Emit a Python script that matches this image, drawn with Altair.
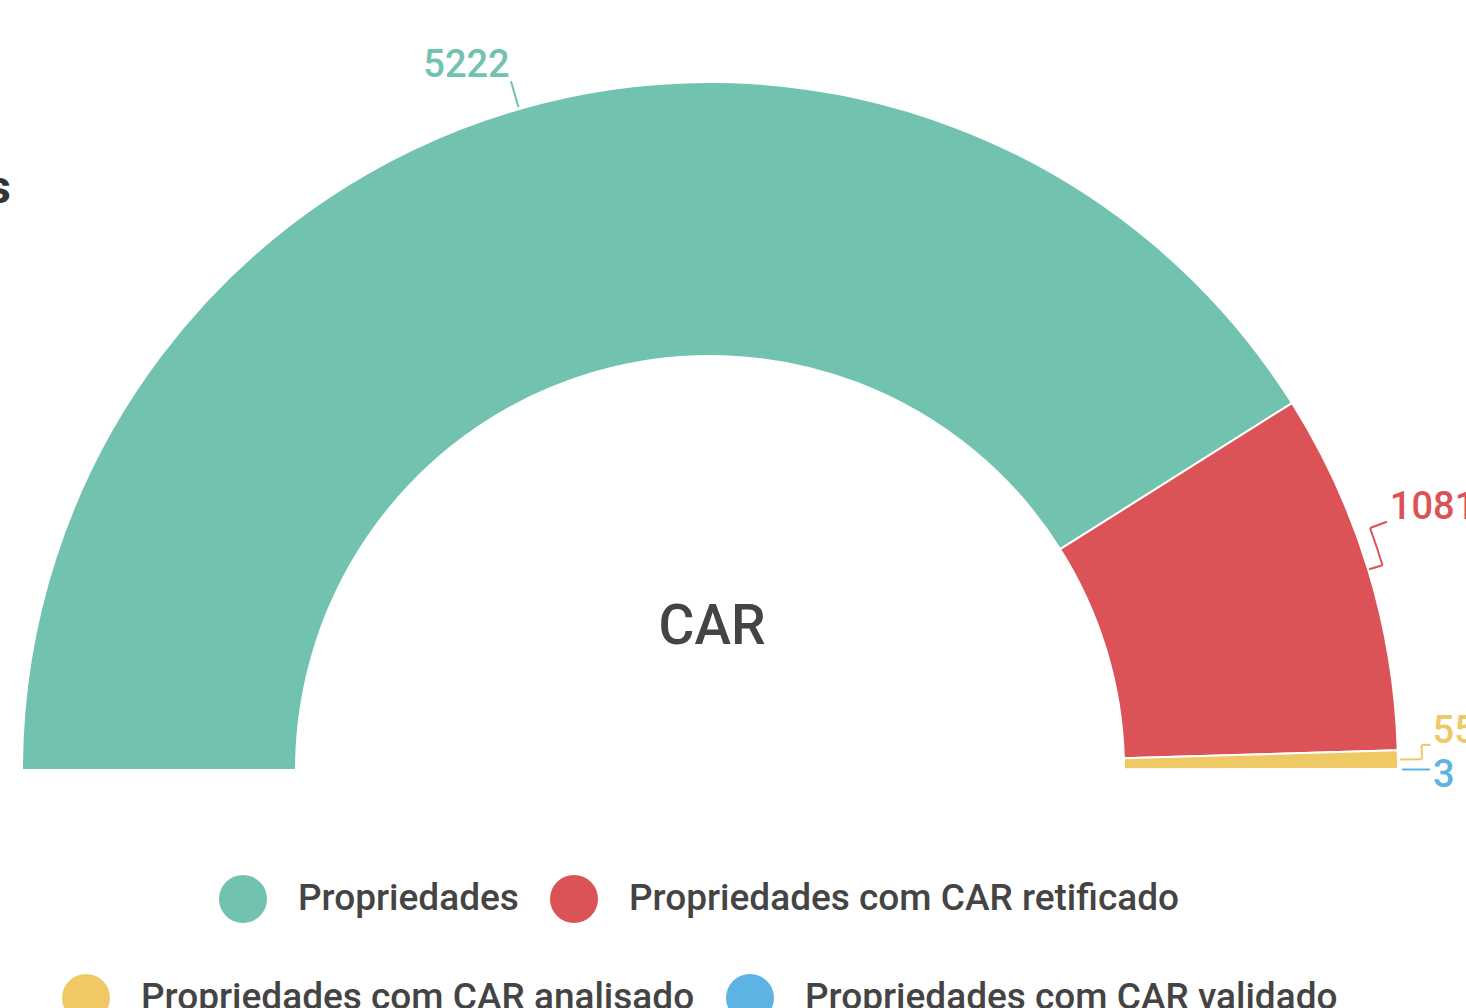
import math
import altair as alt
import pandas as pd

# ---- data ----
categories = [
    "Propriedades",
    "Propriedades com CAR retificado",
    "Propriedades com CAR analisado",
    "Propriedades com CAR validado",
]
values = [5222, 1081, 55, 3]
colors = ["#72C2B0", "#DB5356", "#EFC964", "#5DB3E3"]
order = [0, 1, 2, 3]
chart_title = "CAR"

df = pd.DataFrame({"cat": categories, "value": values, "order": order})
total = sum(values)

# ---- geometry / style ----
CX, CY = 710, 770
R_OUT, R_IN = 688, 414
FONT = "Roboto"
TEXT_COLOR = "#444444"

theta_scale = alt.Scale(domain=[0, total], range=[-math.pi / 2, math.pi / 2])

base = alt.Chart(df).transform_window(
    cum="sum(value)", sort=[alt.SortField("order")], frame=[None, 0]
).transform_calculate(
    start="datum.cum - datum.value",
    mid="datum.cum - datum.value / 2",
)


def deg2val(d):
    return d * total / 180.0


legend_common = dict(
    orient="none",
    direction="horizontal",
    title=None,
    symbolType="circle",
    symbolSize=2304,
    symbolStrokeWidth=0,
    labelFont=FONT,
    labelFontSize=37,
    labelFontWeight=500,
    labelColor=TEXT_COLOR,
    labelOffset=31,
    columnPadding=31,
    labelLimit=900,
    padding=0,
)


def arcs(cats, cols, lx, ly):
    return base.transform_filter(
        alt.FieldOneOfPredicate(field="cat", oneOf=cats)
    ).mark_arc(
        outerRadius=R_OUT, innerRadius=R_IN, stroke="white", strokeWidth=2
    ).encode(
        theta=alt.Theta("start:Q", scale=theta_scale, stack=None),
        theta2="cum:Q",
        x=alt.value(CX),
        y=alt.value(CY),
        color=alt.Color(
            "cat:N",
            scale=alt.Scale(domain=cats, range=cols),
            sort=cats,
            legend=alt.Legend(legendX=lx, legendY=ly, **legend_common),
        ),
    )


def seg(cat, color, a_off, b_off, r1, r2):
    return base.transform_filter(alt.datum.cat == cat).transform_calculate(
        a=f"datum.mid + ({deg2val(a_off)})",
        b=f"datum.mid + ({deg2val(b_off)})",
    ).mark_arc(
        innerRadius=r1, outerRadius=r2, stroke=color, strokeWidth=2,
        fillOpacity=0, fill=color,
    ).encode(
        theta=alt.Theta("a:Q", scale=theta_scale, stack=None),
        theta2="b:Q",
        x=alt.value(CX),
        y=alt.value(CY),
    )


def label(cat, color, t_off, r, align, dx, dy):
    return base.transform_filter(alt.datum.cat == cat).transform_calculate(
        t=f"datum.mid + ({deg2val(t_off)})"
    ).mark_text(
        radius=r, align=align, baseline="middle", dx=dx, dy=dy,
        font=FONT, fontSize=38, fontWeight=500, color=color,
    ).encode(
        theta=alt.Theta("t:Q", scale=theta_scale, stack=None),
        text=alt.Text("value:Q"),
        x=alt.value(CX),
        y=alt.value(CY),
    )


layers = [
    arcs(categories[:2], colors[:2], 219, 875),
    arcs(categories[2:], colors[2:], 62, 974),
    # leader lines
    seg(categories[0], colors[0], 0, 0, 690, 717),
    seg(categories[1], colors[1], 0, 0, 689, 703),
    seg(categories[1], colors[1], -3.2, 0, 703, 703),
    seg(categories[1], colors[1], -3.2, -3.2, 703, 721),
    seg(categories[2], colors[2], 0, 0, 690, 712),
    seg(categories[2], colors[2], -1.14, 0, 712, 712),
    seg(categories[2], colors[2], -1.14, -1.14, 712, 721),
    seg(categories[3], colors[3], 0, 0, 692, 720),
    # value labels
    label(categories[0], colors[0], 0, 718, "right", -1, -14),
    label(categories[1], colors[1], -3.2, 722, "left", 2, -13),
    label(categories[2], colors[2], -1.14, 722, "left", 1, -13),
    label(categories[3], colors[3], 0, 722, "left", 1, 7),
]

title_layer = alt.Chart(pd.DataFrame({"t": [chart_title]})).mark_text(
    font=FONT, fontSize=55, fontWeight=500, color=TEXT_COLOR,
    align="center", baseline="middle",
).encode(text="t:N", x=alt.value(712), y=alt.value(627))

side_layer = alt.Chart(pd.DataFrame({"t": ["Propriedades"]})).mark_text(
    font=FONT, fontSize=47, fontWeight="bold", color="#333333",
    align="right", baseline="alphabetic",
).encode(text="t:N", x=alt.value(11), y=alt.value(203))

chart = alt.layer(*layers, title_layer, side_layer).resolve_scale(
    color="independent"
).properties(
    width=1466, height=1008, autosize="none", padding=0, background="white"
).configure_view(stroke=None)

chart.save("out.html", embed_options={"renderer": "svg", "actions": False})
